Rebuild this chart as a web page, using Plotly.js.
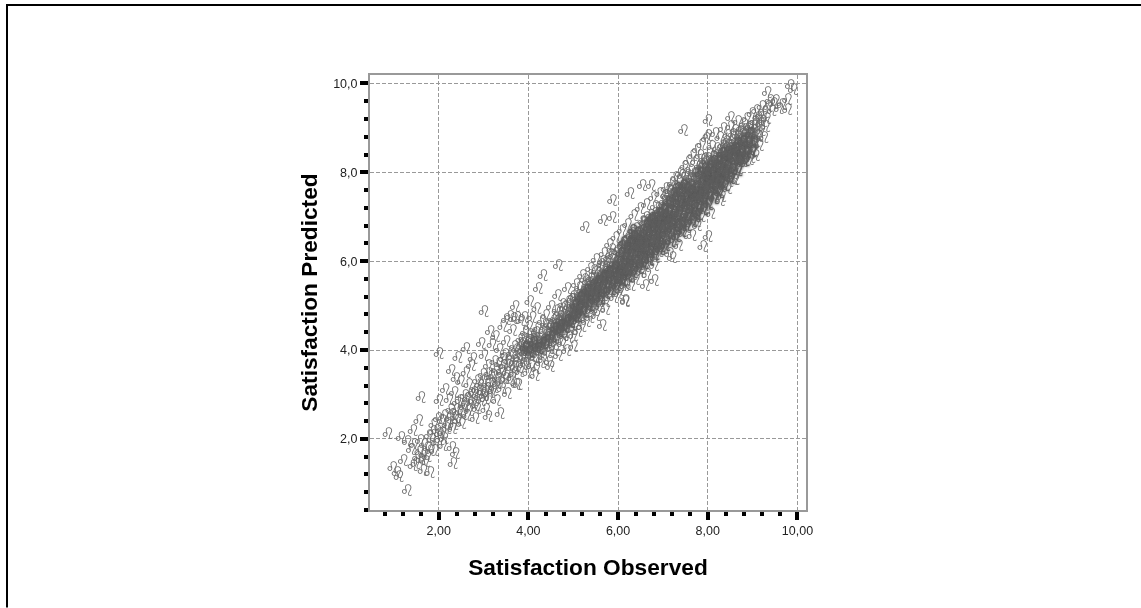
<!DOCTYPE html>
<html><head><meta charset="utf-8">
<script src="https://cdn.plot.ly/plotly-3.0.1.min.js"></script>
<style>html,body{margin:0;padding:0;background:#fff;overflow:hidden}#chart svg{will-change:transform}</style>
</head><body><div id="chart" style="width:1141px;height:608px"></div>
<script>
const xTitle = "Satisfaction Observed";
const yTitle = "Satisfaction Predicted";
const glyph = "\u264C\uFE0E";
const outliers = [[0.86,2.09],[1.15,2.0],[1.6,2.9],[1.55,2.38],[1.42,2.16],[0.97,1.32],[1.06,1.2],[1.11,1.12],[1.29,0.8],[1.2,1.48],[1.8,1.2],[1.64,1.25],[1.42,1.37],[2.0,3.88],[2.6,4.0],[2.27,3.5],[2.42,3.79],[2.0,2.84],[2.31,1.41],[2.36,1.64],[2.29,1.77],[2.09,1.82],[3.36,2.54],[3.09,2.48],[3.0,4.84],[3.7,4.95],[4.32,5.65],[4.21,5.36],[4.66,5.86],[4.02,5.06],[3.14,4.38],[5.64,4.52],[5.71,4.88],[5.0,4.05],[4.14,3.39],[6.15,5.08],[6.0,5.24],[5.5,4.75],[4.48,3.6],[3.76,3.2],[7.88,6.3],[8.0,6.53],[7.2,6.05],[6.8,5.87],[6.8,5.53],[6.64,5.66],[6.6,5.43],[6.28,5.43],[6.15,5.05],[5.87,7.34],[6.53,7.66],[6.73,7.66],[5.26,6.73],[5.66,6.89],[5.86,6.94],[6.26,7.5],[7.76,6.76],[8.27,7.34],[8.43,7.6],[8.57,7.8],[7.45,8.9],[8.0,9.13],[8.0,8.8],[8.5,9.2],[9.32,9.76],[9.83,9.92],[9.9,9.83],[9.77,9.6],[9.77,9.38],[9.5,9.58],[9.65,9.5],[9.05,8.34],[8.95,8.3],[8.6,7.8],[8.3,7.43]];
const lowBand = [[1.29,1.9],[1.45,1.85],[1.58,1.92],[1.38,1.72],[1.52,1.55],[1.6,1.5],[1.48,1.42],[1.7,1.45],[1.66,1.62],[1.74,1.78],[1.84,1.95],[1.9,1.7],[1.78,2.05],[1.95,2.15],[1.88,2.3],[2.02,1.95],[2.08,2.12],[1.98,2.42],[2.12,2.5],[2.18,2.3],[2.26,2.62],[2.3,2.2],[2.36,2.44],[2.4,2.78],[2.46,2.58],[2.34,3.02],[2.22,2.86],[2.14,3.08],[2.5,2.32],[2.55,2.7],[2.58,2.95],[2.62,2.5],[2.66,3.2],[2.7,2.78],[2.48,3.25],[2.38,3.32],[2.6,3.45],[2.72,3.62],[2.78,3.0],[2.84,2.66],[2.86,3.28],[2.8,2.42],[2.9,3.05],[2.94,2.82],[2.76,3.78],[2.98,3.42],[3.0,2.95],[3.04,2.62],[3.08,3.18],[3.12,2.9]];
const midLow = [[3.0,3.85],[2.94,4.12],[3.1,3.62],[3.16,3.38],[3.2,3.05],[3.24,3.7],[3.28,2.82],[3.3,3.22],[3.34,3.98],[3.38,3.5],[3.4,3.1],[3.18,4.1],[3.26,4.28],[3.44,3.78],[3.48,3.32],[3.5,4.15],[3.52,2.98],[3.56,3.62],[3.6,3.88],[3.62,3.35],[3.42,4.5],[3.5,4.66],[3.58,4.72],[3.66,4.68],[3.74,4.7],[3.82,4.62],[3.9,4.7],[3.64,4.4],[3.68,4.05],[3.7,3.6],[3.72,3.2],[3.76,3.85],[3.8,3.48],[3.82,4.2],[3.85,3.96],[3.88,3.65],[3.92,4.35],[3.94,4.05],[3.96,3.78],[3.98,3.45],[4.0,4.5],[4.02,4.18],[4.04,3.92],[4.06,3.62],[4.08,4.7],[4.1,4.3],[4.12,4.05],[4.14,3.8],[4.16,3.55],[4.18,4.9],[4.2,4.45],[4.22,4.15],[4.24,3.92],[4.26,3.68],[4.28,4.25],[4.3,4.6],[3.86,4.12],[3.98,4.0],[4.08,3.98],[4.18,4.06],[4.02,4.32],[3.9,3.9],[4.15,4.22],[4.26,4.02]];
const midBand = [[4.32,3.75],[4.34,4.4],[4.36,4.05],[4.38,4.75],[4.4,4.25],[4.42,3.9],[4.44,4.55],[4.46,3.7],[4.48,4.15],[4.5,4.95],[4.52,4.35],[4.54,4.08],[4.56,4.62],[4.58,3.95],[4.6,4.45],[4.62,4.2],[4.64,5.2],[4.66,3.85],[4.68,4.8],[4.7,4.38],[4.72,4.58],[4.74,4.12],[4.76,5.0],[4.78,4.3],[4.8,4.7],[4.82,4.48],[4.84,3.95],[4.86,5.35],[4.88,4.85],[4.9,4.25],[4.92,4.6],[4.94,4.42],[4.96,5.1],[4.98,4.75],[5.0,4.3],[5.02,5.0],[5.04,4.55],[5.06,5.45],[5.08,4.85],[5.1,4.38],[5.12,5.2],[5.14,4.7],[5.16,4.95],[5.18,4.5],[5.2,5.65],[5.22,5.05],[5.24,4.8],[5.26,5.3],[5.28,4.6],[5.3,5.5],[5.32,4.95],[5.34,5.15],[5.36,4.7],[5.38,5.8],[5.4,5.35],[5.42,5.02],[5.44,5.58],[5.46,4.85],[5.48,5.25],[5.5,6.0],[5.52,5.45],[5.54,5.1],[5.56,5.7],[5.58,4.95],[5.6,5.35],[5.62,5.9],[5.64,5.55],[5.66,5.2],[5.68,6.15],[5.7,5.75],[5.72,5.05],[5.74,5.42],[5.76,5.95],[5.78,5.6],[5.8,6.35],[5.82,5.28],[5.84,5.82],[5.86,5.5],[5.88,6.1],[5.9,5.15],[5.92,5.7],[5.94,6.5],[5.96,5.38],[5.98,5.95],[6.0,5.6],[6.02,6.25],[6.04,5.3],[6.06,5.82],[6.08,6.65],[6.1,5.5],[6.12,6.05],[4.55,4.3],[4.75,4.55],[4.95,4.9],[5.15,5.1],[5.35,5.4],[5.55,5.55],[5.75,5.7],[5.95,5.85],[4.65,4.62],[4.85,4.72],[5.05,4.78],[5.25,5.0],[5.45,5.2],[5.65,5.35],[5.85,6.0],[5.05,5.22],[5.25,5.55],[5.45,5.75],[5.65,5.95],[5.85,6.22]];
const core = [[6.14,5.7],[6.16,6.4],[6.18,5.45],[6.2,6.8],[6.22,5.95],[6.24,6.2],[6.26,5.62],[6.28,6.55],[6.3,6.05],[6.32,5.8],[6.34,7.0],[6.36,6.3],[6.38,5.55],[6.4,6.7],[6.42,6.12],[6.44,5.9],[6.46,6.45],[6.48,7.15],[6.5,5.72],[6.52,6.25],[6.54,6.85],[6.56,6.02],[6.58,6.58],[6.6,5.85],[6.62,7.25],[6.64,6.35],[6.66,6.72],[6.68,6.1],[6.7,5.98],[6.72,7.0],[6.74,6.5],[6.76,6.22],[6.78,7.4],[6.8,6.85],[6.82,6.05],[6.84,6.62],[6.86,6.35],[6.88,7.15],[6.9,6.18],[6.92,7.5],[6.94,6.75],[6.96,6.48],[6.98,6.95],[7.0,6.25],[7.02,7.3],[7.04,6.6],[7.06,7.6],[7.08,6.38],[7.1,7.05],[7.12,6.82],[7.14,6.15],[7.16,7.42],[7.18,6.68],[7.2,7.72],[7.22,6.95],[7.24,6.45],[7.26,7.2],[7.28,7.85],[7.3,6.75],[7.32,7.5],[7.34,6.32],[7.36,7.05],[7.38,7.95],[7.4,6.88],[7.42,7.3],[7.44,6.6],[7.46,7.65],[7.48,8.1],[7.5,7.15],[7.52,6.72],[7.54,7.45],[7.56,8.22],[7.58,6.95],[7.6,7.8],[7.62,7.25],[7.64,6.55],[7.66,8.35],[7.68,7.58],[7.7,7.05],[7.72,7.95],[7.74,6.85],[7.76,8.48],[7.78,7.35],[7.8,8.1],[7.82,7.7],[7.84,6.98],[7.86,8.6],[7.88,7.5],[7.9,8.25],[7.92,7.15],[7.94,7.85],[7.96,8.72],[7.98,7.62],[8.0,7.28],[8.02,8.38],[8.04,8.0],[8.06,7.05],[8.08,8.55],[8.1,7.75],[8.12,8.15],[8.14,7.42],[8.16,8.85],[8.18,7.9],[8.2,8.5],[6.2,6.3],[6.3,6.4],[6.4,6.35],[6.5,6.5],[6.6,6.45],[6.7,6.65],[6.8,6.55],[6.9,6.9],[7.0,6.8],[7.1,7.3],[7.2,7.0],[7.3,7.2],[7.4,7.5],[7.5,7.35],[7.6,7.55],[7.7,7.4],[7.8,7.55],[7.9,7.9],[8.0,8.05],[6.25,6.0],[6.35,6.05],[6.45,6.15],[6.55,6.3],[6.65,6.55],[6.75,6.75],[6.85,7.0],[6.95,7.15],[7.05,7.0],[7.15,7.15],[7.25,6.9],[7.35,7.75],[7.45,7.1],[7.55,7.75],[7.65,7.8],[7.75,7.7],[7.85,7.8],[7.95,8.2],[6.52,6.72],[6.72,6.35],[6.92,6.6],[7.12,7.55],[7.32,7.0],[7.52,7.95],[7.72,8.2],[7.92,7.5],[6.62,6.95],[6.82,7.2],[7.02,6.95],[7.22,7.45],[7.42,7.9],[7.62,8.0],[7.82,8.35]];
const upperBand = [[8.22,7.55],[8.24,8.25],[8.26,8.75],[8.28,7.85],[8.3,8.4],[8.32,7.7],[8.34,8.95],[8.36,8.1],[8.38,8.6],[8.4,7.95],[8.42,8.3],[8.44,8.8],[8.46,7.75],[8.48,8.5],[8.5,9.0],[8.52,8.15],[8.54,8.68],[8.56,7.95],[8.58,8.4],[8.6,8.9],[8.62,8.2],[8.64,8.58],[8.66,9.1],[8.68,8.05],[8.7,8.75],[8.72,8.35],[8.74,8.95],[8.76,8.55],[8.78,8.2],[8.8,9.05],[8.82,8.7],[8.84,8.4],[8.86,9.18],[8.88,8.85],[8.9,8.55],[8.92,8.25],[8.94,9.0],[8.96,8.7],[8.98,9.28],[9.0,8.45],[9.02,8.9],[9.04,9.12],[9.06,8.65],[9.08,9.35],[9.1,8.8],[9.12,9.02],[9.14,8.58],[9.16,9.25],[9.18,8.9],[9.2,9.45],[9.22,9.1],[9.24,8.75],[9.26,9.32],[9.28,9.0],[9.3,9.18],[9.34,9.45],[9.38,9.58],[9.42,9.35],[9.46,9.52],[9.58,9.4]];
const denseLow = [[1.67,1.83],[1.73,1.58],[1.81,1.71],[1.57,1.68],[1.93,1.88],[2.01,2.08],[1.87,2.13],[2.11,1.97],[2.17,2.21],[2.23,2.43],[2.07,2.37],[2.29,2.51],[2.33,2.29],[2.41,2.37],[2.39,2.63],[2.47,2.83],[2.53,2.51],[2.59,2.73],[2.63,2.87],[2.67,2.61],[2.71,2.99],[2.77,2.83],[2.81,2.71],[2.83,3.07],[2.89,2.93],[2.91,3.19],[2.97,3.03],[3.03,2.87],[3.01,3.27],[3.07,3.11],[3.11,3.43],[3.13,3.01],[3.17,3.21],[3.21,3.39],[3.23,3.13],[3.27,3.53],[3.31,3.33],[3.33,3.67],[3.37,3.23],[3.41,3.43],[3.43,3.61],[3.47,3.87],[3.51,3.47],[3.53,3.73],[3.57,3.29],[3.61,3.57],[3.63,3.81],[3.67,3.43],[3.69,3.71],[3.73,3.97],[3.77,3.57],[3.79,3.77],[3.83,4.07],[3.87,3.83],[3.89,4.23],[3.93,3.67],[3.97,3.91],[3.99,4.13],[4.03,4.03],[4.07,3.83],[4.09,4.21],[4.13,3.97],[4.17,4.37],[4.19,3.87],[4.23,4.09],[4.27,4.33],[4.29,3.97],[4.33,4.19],[4.37,4.53],[4.39,4.07],[4.43,4.31],[4.47,4.47],[4.49,3.99]];
const denseMid = [[4.53,4.53],[4.57,4.23],[4.59,4.67],[4.61,4.37],[4.63,4.85],[4.67,4.47],[4.69,4.17],[4.71,4.73],[4.73,4.43],[4.77,4.63],[4.79,4.93],[4.81,4.37],[4.83,4.61],[4.87,4.51],[4.89,5.07],[4.91,4.67],[4.93,4.83],[4.97,4.53],[4.99,5.17],[5.01,4.69],[5.03,4.91],[5.07,5.13],[5.09,4.63],[5.11,4.87],[5.13,5.37],[5.17,5.03],[5.19,4.77],[5.21,5.27],[5.23,4.91],[5.27,5.17],[5.29,5.41],[5.31,4.83],[5.33,5.29],[5.37,5.07],[5.39,5.57],[5.41,5.21],[5.43,4.93],[5.47,5.47],[5.49,5.11],[5.51,5.73],[5.53,5.33],[5.57,5.07],[5.59,5.61],[5.61,5.19],[5.63,5.83],[5.67,5.47],[5.69,5.27],[5.71,5.93],[5.73,5.61],[5.77,5.33],[5.79,5.83],[5.81,5.53],[5.83,6.11],[5.87,5.71],[5.89,5.37],[5.91,5.91],[5.93,5.61],[5.97,6.19],[5.99,5.77],[6.01,5.47],[6.03,6.03],[6.07,5.67],[6.09,6.31],[6.11,5.87],[6.13,5.41],[6.17,6.13],[6.19,5.79],[6.21,6.47],[6.23,6.07],[6.27,5.87],[6.29,6.29],[6.31,5.67],[6.33,6.53],[6.37,6.17],[6.39,5.93],[6.41,6.47],[6.43,6.23],[6.47,5.83],[6.49,6.63],[6.51,6.37],[6.53,6.11],[6.57,6.83],[6.59,6.21],[6.61,6.53],[6.63,6.07],[6.67,6.43],[6.69,6.87],[6.71,6.17],[6.73,6.67],[6.77,6.47],[6.79,6.93],[6.81,6.27],[6.83,6.73],[6.87,6.51],[6.89,7.03],[6.91,6.37],[6.93,6.83],[6.97,6.63],[6.99,7.13],[7.01,6.47],[4.6,4.55],[4.8,4.82],[5.0,4.88],[5.2,5.22],[5.4,5.48],[5.6,5.62],[5.8,5.78],[6.0,5.98],[6.2,6.18],[6.4,6.52],[6.6,6.68],[6.8,6.97],[4.7,4.66],[4.9,4.95],[5.1,5.0],[5.3,5.24],[5.5,5.38],[5.7,5.52],[5.9,5.82],[6.1,6.18],[6.3,6.22],[6.5,6.24],[6.7,6.78],[6.9,6.72]];
const denseHigh = [[7.03,7.21],[7.07,6.83],[7.09,7.43],[7.11,6.61],[7.13,7.13],[7.17,6.89],[7.19,7.31],[7.21,6.57],[7.23,7.09],[7.27,7.57],[7.29,6.99],[7.31,7.33],[7.33,6.73],[7.37,7.23],[7.39,7.61],[7.41,6.97],[7.43,7.41],[7.47,6.87],[7.49,7.71],[7.51,7.25],[7.53,6.93],[7.57,7.49],[7.59,7.87],[7.61,7.11],[7.63,7.63],[7.67,7.03],[7.69,7.93],[7.71,7.51],[7.73,7.21],[7.77,7.85],[7.79,7.15],[7.81,7.45],[7.83,8.05],[7.87,7.31],[7.89,7.67],[7.91,8.15],[7.93,7.35],[7.97,7.75],[7.99,8.27],[8.01,7.45],[8.03,7.73],[8.05,8.19],[8.07,7.57],[8.09,7.87],[8.11,8.33],[8.13,7.63],[8.15,8.01],[8.17,8.27],[8.19,7.59],[8.21,8.11],[8.23,7.83],[8.25,8.45],[8.27,8.03],[8.29,7.77],[8.31,8.27],[8.33,8.57],[8.35,7.89],[8.37,8.33],[8.39,8.13],[8.41,8.67],[8.43,8.05],[8.45,8.43],[8.47,8.19],[8.49,7.93],[8.51,8.57],[8.53,8.33],[8.55,8.81],[8.57,8.13],[8.59,8.61],[8.61,8.37],[8.63,8.07],[8.65,8.79],[8.67,8.47],[8.69,8.25],[8.71,8.89],[8.73,8.61],[8.75,8.39],[8.77,8.81],[8.79,8.51],[8.81,8.33],[8.83,8.93],[8.87,8.63],[8.91,8.97],[8.93,8.47],[8.97,8.83],[9.01,8.69],[9.03,9.03],[9.07,8.83],[9.11,9.21],[9.13,8.77],[9.17,9.07],[7.05,7.45],[7.15,7.55],[7.25,7.65],[7.35,7.4],[7.45,7.55],[7.55,7.6],[7.65,7.45],[7.75,7.95],[7.85,8.1],[7.95,7.7],[8.05,7.9],[8.15,8.3],[8.25,7.95],[8.35,8.45],[8.45,8.6],[8.55,8.25],[8.65,8.35],[8.75,8.7],[7.1,6.95],[7.2,7.25],[7.3,7.45],[7.4,7.2],[7.5,7.62],[7.6,7.35],[7.7,7.65],[7.8,7.85],[7.9,7.6],[8.0,7.85],[8.1,8.05],[8.2,8.2],[8.3,8.15],[8.4,8.5],[8.5,8.35],[8.6,8.5],[8.7,8.6],[8.8,8.8]];
const solidCore = [[3.92,4.02],[4.01,3.94],[4.11,4.13],[4.21,4.01],[4.31,4.11],[4.41,4.19],[4.51,4.26],[4.58,4.44],[4.66,4.38],[4.72,4.52],[4.79,4.47],[4.86,4.63],[4.93,4.58],[5.0,4.73],[5.04,4.97],[5.08,4.71],[5.12,4.93],[5.16,5.14],[5.21,4.83],[5.26,5.08],[5.3,5.31],[5.35,4.97],[5.39,5.19],[5.43,5.42],[5.48,5.06],[5.52,5.28],[5.56,5.52],[5.6,5.13],[5.64,5.37],[5.68,5.63],[5.72,5.24],[5.76,5.48],[5.8,5.74],[5.84,5.33],[5.88,5.57],[5.92,5.83],[5.96,5.43],[6.0,5.68],[6.03,5.93],[6.06,6.13],[6.09,5.53],[6.12,5.79],[6.15,6.02],[6.18,6.26],[6.21,5.62],[6.24,5.88],[6.27,6.11],[6.3,6.36],[6.33,5.71],[6.36,5.96],[6.39,6.21],[6.42,6.44],[6.45,5.81],[6.48,6.06],[6.51,6.29],[6.54,6.55],[6.57,5.92],[6.6,6.16],[6.63,6.41],[6.66,6.63],[6.69,6.01],[6.72,6.26],[6.75,6.52],[6.78,6.76],[6.81,6.11],[6.84,6.37],[6.87,6.62],[6.9,6.86],[6.93,6.23],[6.96,6.49],[6.99,6.74],[7.02,6.99],[7.05,6.33],[7.08,6.58],[7.11,6.85],[7.14,7.09],[7.17,6.42],[7.2,6.69],[7.23,6.96],[7.26,7.21],[7.29,6.53],[7.32,6.79],[7.35,7.06],[7.38,7.32],[7.41,6.63],[7.44,6.91],[7.47,7.17],[7.5,7.43],[7.53,6.76],[7.56,7.02],[7.59,7.28],[7.62,7.54],[7.65,6.87],[7.68,7.13],[7.71,7.38],[7.74,7.63],[7.77,7.01],[7.8,7.26],[7.83,7.52],[7.86,7.76],[7.89,7.13],[7.92,7.38],[7.95,7.63],[7.98,7.88],[8.01,7.24],[8.04,7.48],[8.07,7.73],[8.1,7.97],[8.13,7.37],[8.16,7.61],[8.19,7.85],[8.22,8.08],[8.25,7.51],[8.28,7.73],[8.31,7.96],[8.34,8.21],[8.37,7.67],[8.4,7.87],[8.43,8.09],[8.46,8.32],[8.5,7.82],[8.54,8.04],[8.58,8.28],[8.62,8.49],[8.66,8.0],[8.7,8.21],[8.74,8.43],[8.78,8.66],[8.82,8.23],[8.86,8.42],[8.9,8.64],[8.94,8.84],[8.98,8.43],[9.02,8.63],[5.05,4.82],[5.25,5.18],[5.45,5.3],[5.65,5.6],[5.85,5.7],[6.05,5.72],[6.15,5.88],[6.25,6.36],[6.35,6.52],[6.45,6.32],[6.55,6.41],[6.65,6.28],[6.75,6.92],[6.85,6.8],[6.95,6.3],[7.05,6.75],[7.15,6.9],[7.25,7.38],[7.35,7.5],[7.45,7.68],[7.55,7.22],[7.65,7.3],[7.75,7.45],[7.85,7.42],[7.95,7.95],[8.05,8.08],[8.15,7.8],[8.25,8.22],[8.35,8.02],[8.45,7.98],[8.55,8.45],[8.65,8.62],[8.75,8.27],[6.02,5.58],[6.12,6.38],[6.22,5.75],[6.32,6.65],[6.42,6.58],[6.52,5.96],[6.62,6.78],[6.72,6.88],[6.82,6.44],[6.92,7.05],[7.02,7.12],[7.12,7.28],[7.22,6.78],[7.32,7.6],[7.42,6.78],[7.52,7.6],[7.62,7.68],[7.72,6.98],[7.82,7.95],[7.92,8.05],[8.02,7.62],[8.12,8.22],[8.22,7.7],[8.32,8.38],[8.42,8.42]];
const all = [].concat(outliers, lowBand, midLow, midBand, core, upperBand, denseLow, denseMid, denseHigh);
const W = 436, H = 435.5, L = 370, T = 75;
const frame = [
  {type:'line',xref:'paper',yref:'paper',x0:(6-L)/W,x1:(1141-L)/W,y0:(T+H-5)/H,y1:(T+H-5)/H,line:{color:'#000',width:2}},
  {type:'line',xref:'paper',yref:'paper',x0:(7-L)/W,x1:(7-L)/W,y0:(T+H-4)/H,y1:(T+H-608)/H,line:{color:'#000',width:2}}
];
const minor = {dtick:0.4,tick0:0.4,ticks:'outside',ticklen:4,tickwidth:4,tickcolor:'#000',showgrid:false};
const axisBase = {ticks:'outside',ticklen:8,tickwidth:4,tickcolor:'#000',showgrid:true,gridcolor:'#999',griddash:'4px,2px',gridwidth:1,zeroline:false,showline:true,mirror:true,linewidth:2,linecolor:'#999',tick0:0,dtick:2,minor:minor,tickfont:{family:'"Liberation Sans",Arial,sans-serif',size:12.5,color:'#222'}};
const trace = (pts,font) => ({type:'scatter',mode:'text',x:pts.map(p=>p[0]),y:pts.map(p=>p[1]),text:pts.map(()=>glyph),textposition:'middle center',textfont:font,hoverinfo:'skip',cliponaxis:false});
Plotly.newPlot('chart',[
  trace(all,{family:'"DejaVu Sans"',size:16,color:'#6a6a6a'}),
  trace(solidCore,{family:'"DejaVu Sans"',size:16,color:'#5e5e5e',shadow:'0 0 3px #5e5e5e, 0 0 2px #5e5e5e, 0 0 1px #5e5e5e'})
],{
  width:1141,height:608,margin:{l:L,r:1141-L-W,t:T,b:608-T-H,pad:0},paper_bgcolor:'#fff',plot_bgcolor:'#fff',
  separators:', ',showlegend:false,shapes:frame,
  xaxis:Object.assign({},axisBase,{range:[0.468,10.19],tickformat:'.2f',title:{text:xTitle,standoff:22,font:{family:'"Liberation Sans",Arial,sans-serif',size:22.7,color:'#000',weight:700}}}),
  yaxis:Object.assign({},axisBase,{range:[0.4,10.19],tickformat:'.1f',title:{text:yTitle,standoff:9,font:{family:'"Liberation Sans",Arial,sans-serif',size:22.7,color:'#000',weight:700}}})
},{displayModeBar:false,staticPlot:true});
</script></body></html>
